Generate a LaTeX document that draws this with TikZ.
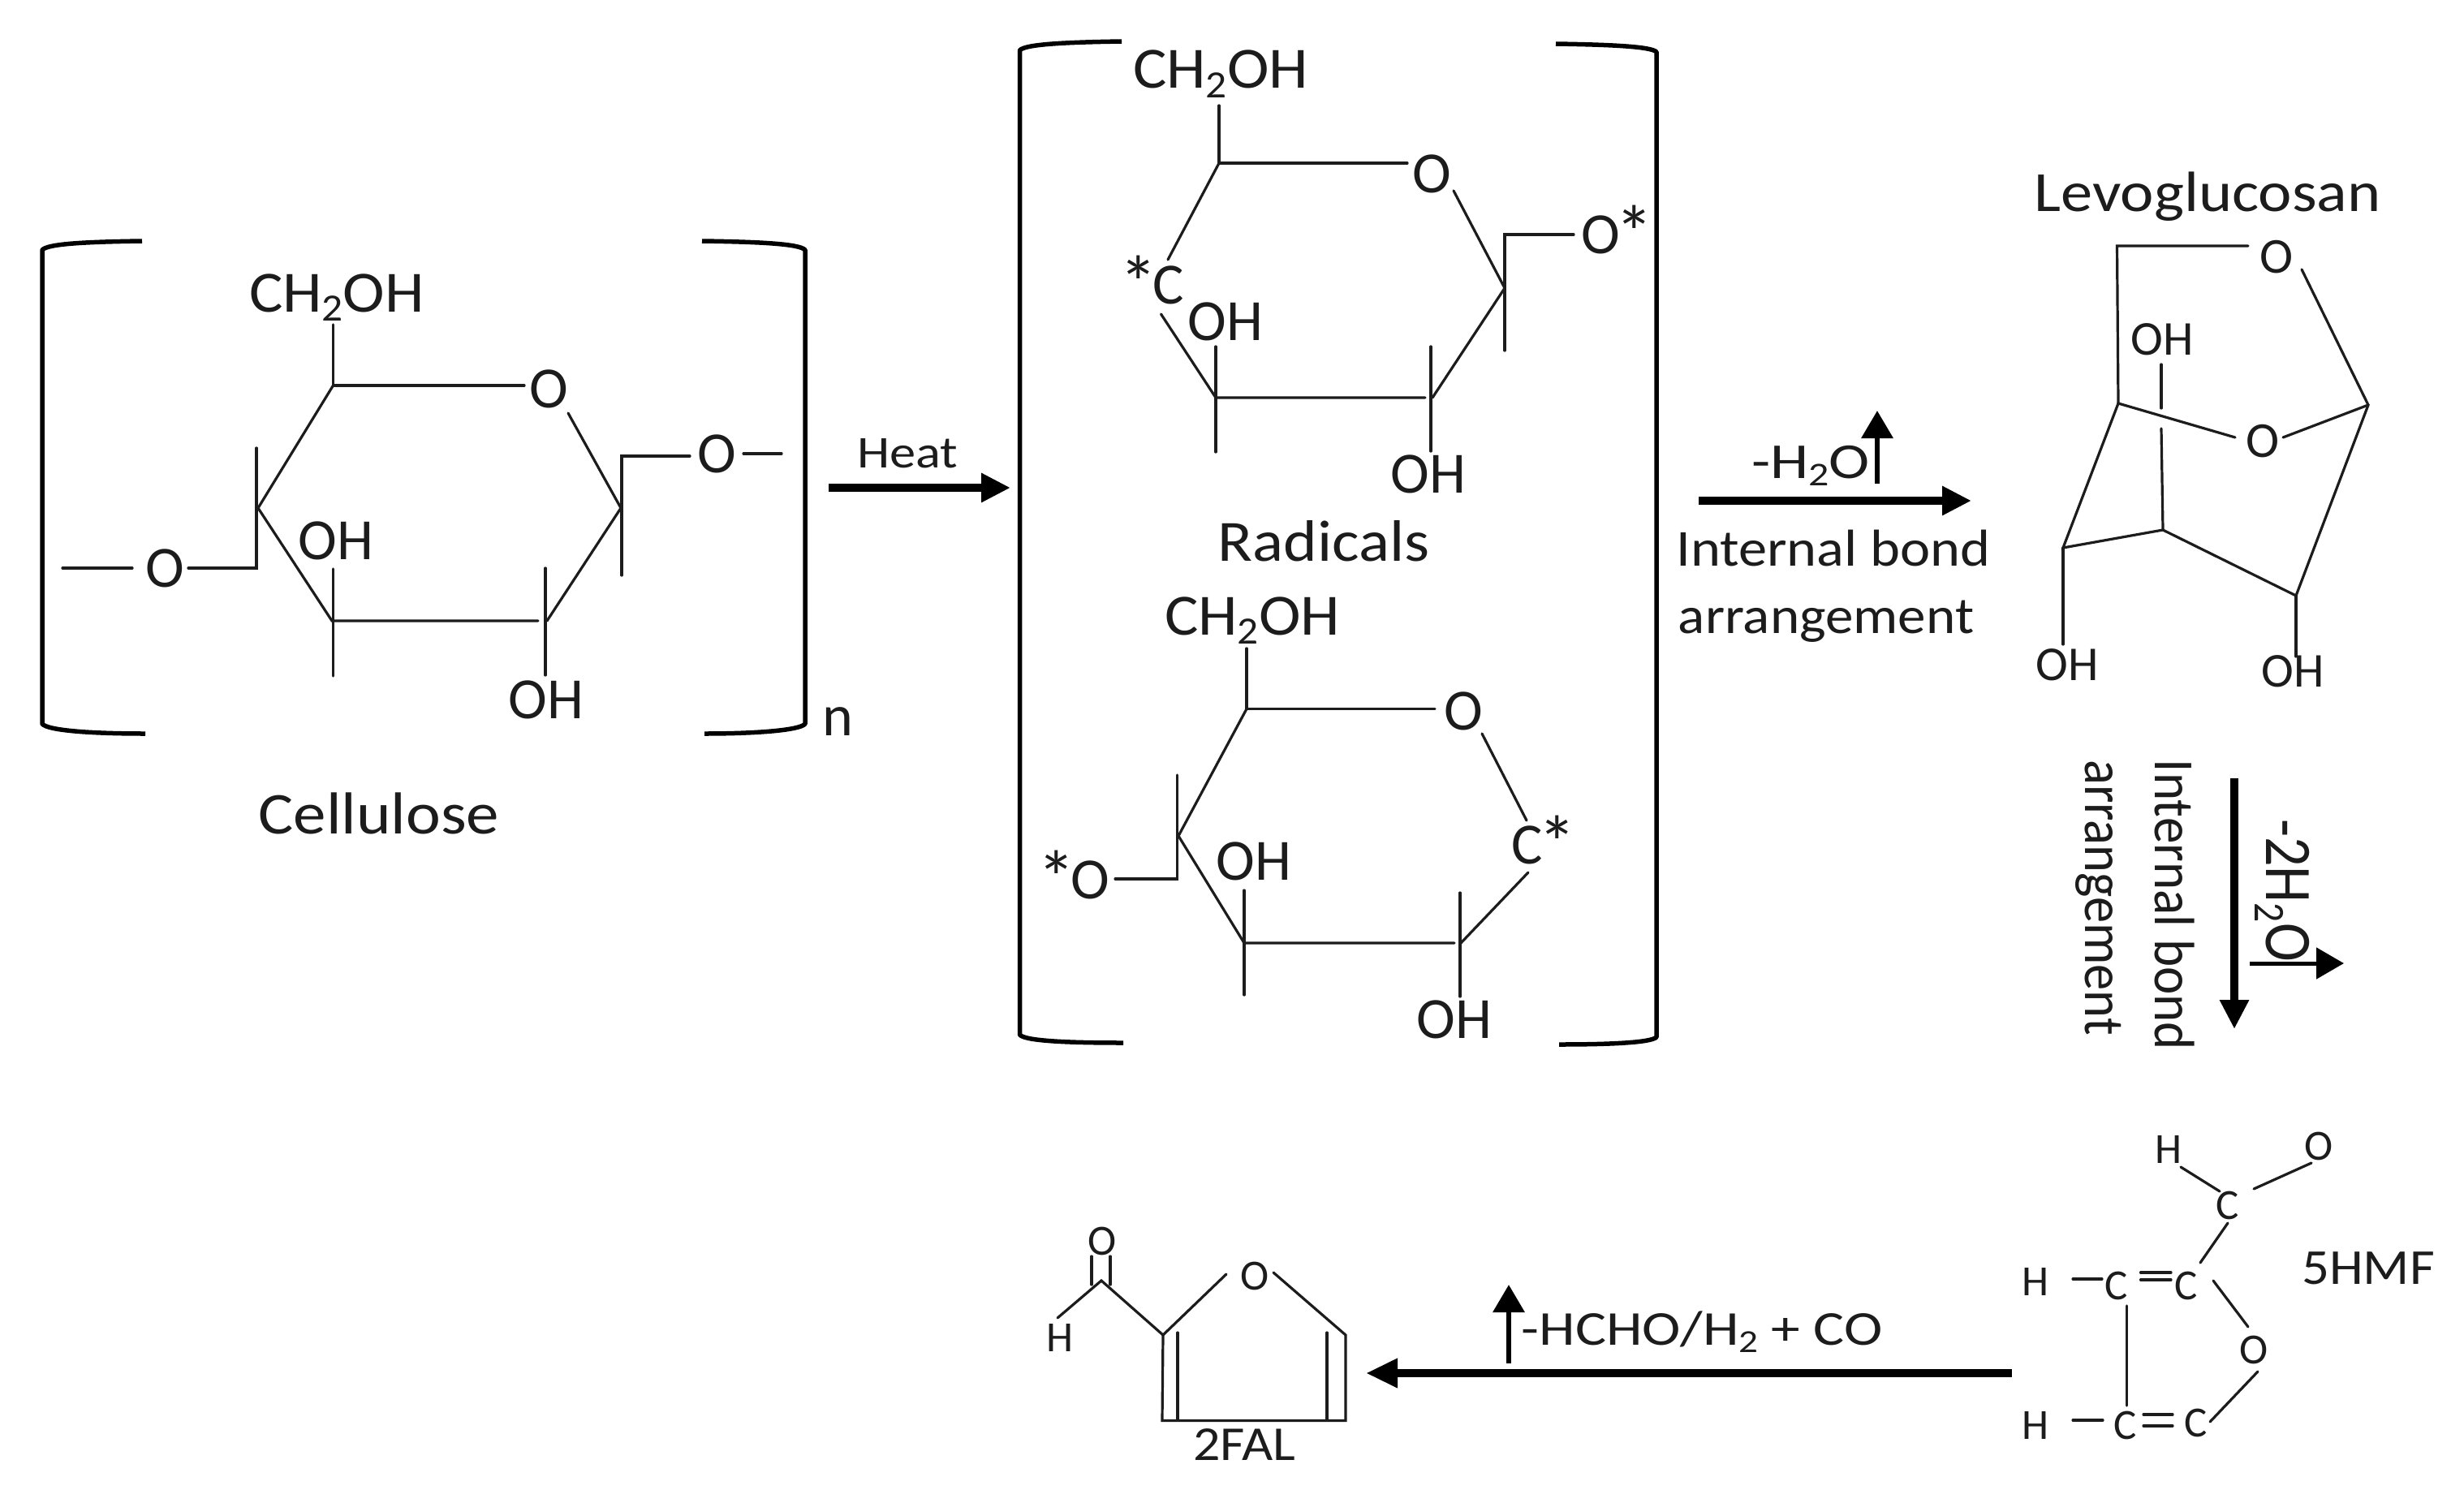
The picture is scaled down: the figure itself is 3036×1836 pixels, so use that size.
\documentclass[tikz,border=0pt]{standalone}
\usepackage{graphicx}
\usepackage{fontspec}
\setmainfont{Carlito}
\usetikzlibrary{arrows.meta}
\definecolor{ink}{HTML}{1C1C1C}
\newcommand{\subtwo}{\raisebox{-.16em}{\scalebox{.66}{2}}}
\newcommand{\astr}{\raisebox{-.1em}{\scalebox{1.3}{*}}}
\tikzset{
  t/.style 2 args={font=\fontsize{#1}{#1}\selectfont,xscale=#2,transform shape,anchor=base,inner sep=0pt,text=ink},
  bond/.style={line width=3.2pt,draw=ink,line cap=round},
  brk/.style={line width=5.5pt,draw=black,line join=round},
  rarrow/.style={line width=10pt,draw=black,-{Triangle[length=36pt,width=34pt]}},
  sarrow/.style={line width=6.5pt,draw=black,-{Triangle[length=34pt,width=38pt]}},
}
\begin{document}
\begin{tikzpicture}[x=1pt,y=-1pt]
\useasboundingbox (0,0) rectangle (3036,1836);

% cellulose
\coordinate (aT1) at (175,297); \coordinate (aC1) at (52,308); \coordinate (aC2) at (52,892); \coordinate (aT2) at (179,904);
\coordinate (aT3) at (865,297); \coordinate (aC3) at (992,308); \coordinate (aC4) at (992,892); \coordinate (aT4) at (868,904);
\draw[brk] (aT1) .. controls (110,298) and (59,300) .. (aC1) -- (aC2) .. controls (59,900) and (110,904) .. (aT2);
\draw[brk] (aT3) .. controls (930,298) and (985,300) .. (aC3) -- (aC4) .. controls (985,900) and (930,904) .. (aT4);
\node (an) [t={72}{1}] at (1032,906) {n};
\node (acell) [t={73}{1.11}] at (467,1027) {Cellulose};
\node (ach) [t={72}{1.08}] at (415,384) {CH\subtwo OH};
\node (aoh1) [t={72}{1}] at (414,689) {OH};
\node (aoh2) [t={72}{1}] at (673,885) {OH};
\node (ao1) [t={72}{1}] at (676,502.5) {O};
\node (ao2) [t={72}{1}] at (883,582) {O};
\node (ao3) [t={72}{1}] at (203.5,723) {O};
\coordinate (a1) at (410.5,475); \coordinate (a2) at (765,626); \coordinate (a3) at (674,765);
\coordinate (a4) at (409,765); \coordinate (a5) at (318,626);
\coordinate (a1u) at (410.5,400); \coordinate (a1o) at (646,475); \coordinate (ao1r) at (700,509);
\coordinate (a2u) at (766,562); \coordinate (a2d) at (766,709); \coordinate (a2o) at (850,562);
\coordinate (ao2r) at (916,559); \coordinate (ao2e) at (963,559);
\coordinate (a3u) at (672,700); \coordinate (a3d) at (672,832); \coordinate (a3l) at (663,765);
\coordinate (a4u) at (410.5,701); \coordinate (a4d) at (410.5,833);
\coordinate (a5u) at (316,552); \coordinate (a5d) at (316,700); \coordinate (a5o) at (232,700);
\coordinate (ao3l) at (163,700); \coordinate (ao3e) at (77,700);
\draw[bond] (a1u) -- (a1) -- (a1o);
\draw[bond] (ao1r) -- (a2) -- (a3);
\draw[bond] (a2o) -- (a2u) -- (a2d);
\draw[bond] (ao2r) -- (ao2e);
\draw[bond] (a3u) -- (a3d);
\draw[bond] (a3l) -- (a4) -- (a5) -- (a1);
\draw[bond] (a4u) -- (a4d);
\draw[bond] (a5u) -- (a5d) -- (a5o);
\draw[bond] (ao3l) -- (ao3e);

% heat arrow
\coordinate (hs) at (1021,601); \coordinate (he) at (1245,601);
\draw[rarrow] (hs) -- (he);
\node (heat) [t={56}{1.15}] at (1118,576) {Heat};

% radicals bracket
\coordinate (mT1) at (1382,51); \coordinate (mC1) at (1256.5,62); \coordinate (mC2) at (1256.5,1275); \coordinate (mT2) at (1384,1285);
\coordinate (mT3) at (1917,54); \coordinate (mC3) at (2041,64); \coordinate (mC4) at (2041,1278); \coordinate (mT4) at (1921,1287);
\draw[brk] (mT1) .. controls (1320,52) and (1263,54) .. (mC1) -- (mC2) .. controls (1263,1283) and (1320,1285) .. (mT2);
\draw[brk] (mT3) .. controls (1980,55) and (2034,57) .. (mC3) -- (mC4) .. controls (2034,1285) and (1980,1287) .. (mT4);
\node (mrad) [t={72}{1.1}] at (1631,691) {Radicals};

% radical 1
\node (bch) [t={72}{1.08}] at (1504,108.5) {CH\subtwo OH};
\node (bo1) [t={72}{1}] at (1764,237.6) {O};
\node (bo2) [t={72}{1}] at (1993,312) {O\kern-.08em\astr};
\node (bc) [t={72}{1}] at (1419,374) {\astr\kern-.08em C};
\node (boh1) [t={72}{1}] at (1510,419) {OH};
\node (boh2) [t={72}{1}] at (1760,607) {OH};
\coordinate (b1) at (1502,201); \coordinate (b1u) at (1502,130); \coordinate (b1o) at (1734,201);
\coordinate (bo1r) at (1791,235); \coordinate (b2) at (1854,355); \coordinate (b2u) at (1854,289);
\coordinate (b2d) at (1854,432); \coordinate (b2o) at (1939,289);
\coordinate (b3) at (1765,490); \coordinate (b3u) at (1763,427); \coordinate (b3d) at (1763,556); \coordinate (b3l) at (1756,490);
\coordinate (b4) at (1498,490); \coordinate (b4u) at (1498,427); \coordinate (b4d) at (1498,557);
\coordinate (bcb) at (1430.5,387); \coordinate (bct) at (1439,320);
\draw[bond] (b1u) -- (b1) -- (b1o);
\draw[bond] (bo1r) -- (b2) -- (b3);
\draw[bond] (b2o) -- (b2u) -- (b2d);
\draw[bond] (b3u) -- (b3d);
\draw[bond] (b3l) -- (b4) -- (bcb);
\draw[bond] (b4u) -- (b4d);
\draw[bond] (b1) -- (bct);

% radical 2
\node (cch) [t={72}{1.08}] at (1543,782) {CH\subtwo OH};
\node (co1) [t={72}{1}] at (1803,899) {O};
\node (cc) [t={72}{1}] at (1902,1064) {C\kern-.08em\astr};
\node (coh1) [t={72}{1}] at (1545,1084) {OH};
\node (coh2) [t={72}{1}] at (1792,1279) {OH};
\node (co2) [t={72}{1}] at (1323,1107) {\astr\kern-.08em O};
\coordinate (c1) at (1536,873.5); \coordinate (c1u) at (1536,799); \coordinate (c1o) at (1768,873.5);
\coordinate (co1r) at (1826,904); \coordinate (cct) at (1881,1011); \coordinate (ccb) at (1883,1075);
\coordinate (c3) at (1800,1162); \coordinate (c3u) at (1799,1100); \coordinate (c3d) at (1799,1228); \coordinate (c3l) at (1792,1162);
\coordinate (c4) at (1533,1162); \coordinate (c4u) at (1533,1097); \coordinate (c4d) at (1533,1226);
\coordinate (c5) at (1452,1030); \coordinate (c5u) at (1450.5,955); \coordinate (c5d) at (1450.5,1083); \coordinate (c5o) at (1374,1083);
\draw[bond] (c1u) -- (c1) -- (c1o);
\draw[bond] (co1r) -- (cct);
\draw[bond] (ccb) -- (c3);
\draw[bond] (c3u) -- (c3d);
\draw[bond] (c3l) -- (c4) -- (c5) -- (c1);
\draw[bond] (c4u) -- (c4d);
\draw[bond] (c5u) -- (c5d) -- (c5o);

% -H2O arrow
\coordinate (ws) at (2093,617); \coordinate (we) at (2429,617);
\coordinate (wus) at (2313,596); \coordinate (wue) at (2313,506);
\draw[rarrow] (ws) -- (we);
\draw[sarrow] (wus) -- (wue);
\node (wt) [t={62}{1.22}] at (2231,589) {-H\subtwo O};
\node (wi1) [t={64}{1.1}] at (2259,697) {Internal bond};
\node (wi2) [t={64}{1.08}] at (2250,780) {arrangement};

% levoglucosan
\node (llev) [t={70}{1.12}] at (2720,260) {Levoglucosan};
\node (lo1) [t={62}{1}] at (2805,336) {O};
\node (lo2) [t={62}{1}] at (2788,563) {O};
\node (loh1) [t={60}{1}] at (2664.5,437) {OH};
\node (loh2) [t={60}{1}] at (2547,838) {OH};
\node (loh3) [t={60}{1}] at (2825,846) {OH};
\coordinate (l0) at (2608.5,303); \coordinate (l0o) at (2770,303); \coordinate (lo1r) at (2836,332);
\coordinate (l1) at (2918,499); \coordinate (l2) at (2829,734); \coordinate (l3) at (2665,653);
\coordinate (l4) at (2542,675); \coordinate (l5) at (2610,497);
\coordinate (lo2l) at (2754,539); \coordinate (lo2r) at (2813,539);
\coordinate (l3a) at (2663,449); \coordinate (l3b) at (2663,503); \coordinate (l3c) at (2663,528);
\coordinate (l4d) at (2542,794); \coordinate (l2d) at (2829,809);
\draw[bond] (l5) -- (l0) -- (l0o);
\draw[bond] (lo1r) -- (l1) -- (l2) -- (l3) -- (l4) -- (l5) -- (lo2l);
\draw[bond] (lo2r) -- (l1);
\draw[bond] (l3a) -- (l3b);
\draw[bond] (l3c) -- (l3);
\draw[bond] (l4) -- (l4d);
\draw[bond] (l2) -- (l2d);

% -2H2O arrow
\coordinate (ds) at (2753,959); \coordinate (de) at (2753,1268);
\coordinate (dss) at (2772,1187); \coordinate (dse) at (2888,1187);
\draw[rarrow] (ds) -- (de);
\draw[sarrow,line width=5pt] (dss) -- (dse);
\node (dt) [rotate=-90,t={82}{.88}] at (2792,1097) {-2H\subtwo O};
\node (di1) [rotate=-90,t={70}{.93}] at (2655,1115) {Internal bond};
\node (di2) [rotate=-90,t={70}{.92}] at (2569,1106) {arrangement};

% 5HMF
\node (h5) [t={62}{1.08}] at (2918,1582) {5HMF};
\node (hh1) [t={53}{1}] at (2672,1433) {H};
\node (ho1) [t={53}{1}] at (2857,1429) {O};
\node (hc1) [t={53}{1}] at (2745,1502) {C};
\node (hh2) [t={53}{1}] at (2508,1596) {H};
\node (hc2) [t={53}{1}] at (2608,1601) {C};
\node (hc3) [t={53}{1}] at (2694,1601) {C};
\node (ho2) [t={53}{1}] at (2777,1680) {O};
\node (hh3) [t={53}{1}] at (2508,1773.5) {H};
\node (hc4) [t={53}{1}] at (2619,1773.5) {C};
\node (hc5) [t={53}{1}] at (2706,1770) {C};
\coordinate (p1) at (2687,1438); \coordinate (p2) at (2735,1468);
\coordinate (p3) at (2777,1465); \coordinate (p4) at (2848,1433);
\coordinate (p5) at (2745,1507); \coordinate (p6) at (2711,1556);
\coordinate (p7) at (2727,1578); \coordinate (p8) at (2770,1635);
\coordinate (p9) at (2782,1690); \coordinate (p10) at (2723,1752);
\coordinate (p11) at (2620.5,1609); \coordinate (p12) at (2620.5,1732);
\coordinate (p13) at (2554,1576); \coordinate (p14) at (2590,1576);
\coordinate (p15) at (2554,1750); \coordinate (p16) at (2591,1750);
\coordinate (p17) at (2637.5,1568); \coordinate (p18) at (2675,1568);
\coordinate (p19) at (2637.5,1577); \coordinate (p20) at (2675,1577);
\coordinate (p21) at (2641,1743); \coordinate (p22) at (2677,1743);
\coordinate (p23) at (2641,1757); \coordinate (p24) at (2677,1757);
\foreach \i/\j in {p1/p2,p3/p4,p5/p6,p7/p8,p9/p10,p11/p12,p13/p14,p15/p16,p17/p18,p19/p20,p21/p22,p23/p24}
  \draw[bond] (\i) -- (\j);

% bottom arrow
\coordinate (bs) at (2479,1692); \coordinate (be) at (1683,1692);
\coordinate (bus) at (1859,1680); \coordinate (bue) at (1859,1583);
\draw[rarrow,-{Triangle[length=39pt,width=34pt]}] (bs) -- (be);
\draw[sarrow] (bus) -- (bue);
\node (bt) [t={60}{1.19}] at (2097,1657) {-HCHO/H\subtwo\ + CO};

% 2FAL
\node (f2) [t={60}{1.1}] at (1533,1799) {2FAL};
\node (fo1) [t={53}{1}] at (1358,1546) {O};
\node (fo2) [t={53}{1}] at (1546,1589) {O};
\node (fh) [t={53}{1}] at (1306,1665) {H};
\coordinate (f1) at (1357,1578); \coordinate (f3) at (1433,1645); \coordinate (f4) at (1432,1750.5);
\coordinate (f5) at (1658,1750.5); \coordinate (f6) at (1658,1645); \coordinate (f7) at (1569,1568);
\coordinate (f8) at (1511,1570); \coordinate (f9) at (1303,1624);
\coordinate (f10) at (1345,1548); \coordinate (f11) at (1345,1583);
\coordinate (f12) at (1368,1548); \coordinate (f13) at (1368,1583);
\coordinate (f14) at (1451,1642); \coordinate (f15) at (1451,1750);
\coordinate (f16) at (1635,1642); \coordinate (f17) at (1635,1750);
\draw[bond] (f9) -- (f1) -- (f3) -- (f8);
\draw[bond] (f3) -- (f4) -- (f5) -- (f6) -- (f7);
\foreach \i/\j in {f10/f11,f12/f13,f14/f15,f16/f17}
  \draw[bond] (\i) -- (\j);
\end{tikzpicture}
\end{document}
